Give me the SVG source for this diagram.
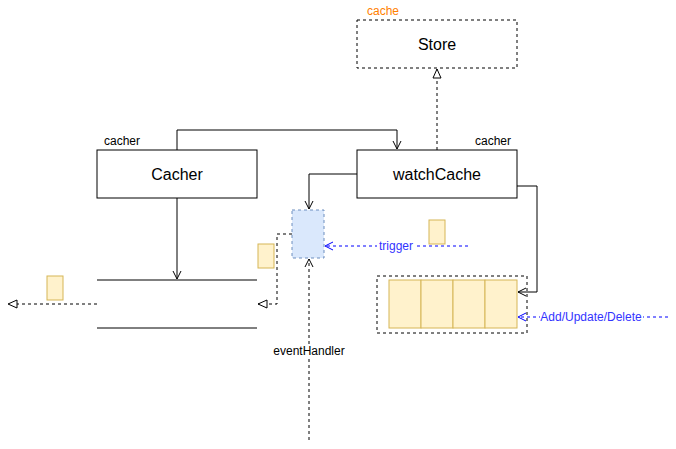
<svg xmlns="http://www.w3.org/2000/svg" width="676" height="449" viewBox="0 0 676 449">
<style>
text{font-family:"Liberation Sans",Arial,sans-serif;fill:#000}
.big{font-size:16px;text-anchor:middle}
.sm{font-size:12px}
.box{fill:#fff;stroke:#000;stroke-width:1}
.dbox{fill:#fff;stroke:#000;stroke-dasharray:3 3}
.doc{fill:#fff2cc;stroke:#d6b656}
.ln{fill:none;stroke:#000}
.dl{fill:none;stroke:#000;stroke-dasharray:3 3}
.bl{fill:none;stroke:#0000ff;stroke-dasharray:3 3}
</style>
<defs>
<marker id="open" markerWidth="10" markerHeight="10" refX="9" refY="5" orient="auto" markerUnits="userSpaceOnUse"><path d="M1,1 L9,5 L1,9" fill="none" stroke="#000"/></marker>
<marker id="openb" markerWidth="10" markerHeight="10" refX="9" refY="5" orient="auto" markerUnits="userSpaceOnUse"><path d="M1,1 L9,5 L1,9" fill="none" stroke="#0000ff"/></marker>
<marker id="tri" markerWidth="12" markerHeight="12" refX="10" refY="6" orient="auto" markerUnits="userSpaceOnUse"><path d="M1,2 L10,6 L1,10 Z" fill="#fff" stroke="#000"/></marker>
</defs>
<g id="store">
<rect class="dbox" x="357" y="20" width="160" height="48"/>
<text class="big" x="437" y="50">Store</text>
<text class="sm" x="367" y="15" style="fill:#ff8000">cache</text>
</g>
<g id="cacher">
<rect class="box" x="97" y="150" width="160" height="48"/>
<text class="big" x="177" y="180">Cacher</text>
<text class="sm" x="104" y="145">cacher</text>
</g>
<g id="watchCache">
<rect class="box" x="357" y="150" width="160" height="48"/>
<text class="big" x="437" y="180">watchCache</text>
<text class="sm" x="475" y="145">cacher</text>
</g>
<g id="trigger-box">
<rect x="292" y="210" width="32" height="48" fill="#dae8fc" stroke="#6c8ebf" stroke-dasharray="3 3"/>
</g>
<g id="queue">
<rect class="dbox" x="377" y="276" width="150" height="57"/>
<rect class="doc" x="389" y="280" width="32" height="48"/>
<rect class="doc" x="421" y="280" width="32" height="48"/>
<rect class="doc" x="453" y="280" width="32" height="48"/>
<rect class="doc" x="485" y="280" width="32" height="48"/>
</g>
<g id="docs">
<rect class="doc" x="47" y="276" width="16" height="24"/>
<rect class="doc" x="258" y="244" width="16" height="24"/>
<rect class="doc" x="429" y="220" width="16" height="24"/>
</g>
<g id="connectors">
<path class="dl" d="M437,150 V69" marker-end="url(#tri)"/>
<path class="ln" d="M177,150 V130 H397 V149" marker-end="url(#open)"/>
<path class="ln" d="M177,198 V279" marker-end="url(#open)"/>
<path class="ln" d="M357,174 H309 V209" marker-end="url(#open)"/>
<path class="dl" d="M292,234 H277 V304 H258" marker-end="url(#tri)"/>
<path class="dl" d="M97,304 H8" marker-end="url(#tri)"/>
<path class="ln" d="M517,186 H537 V292 H518" marker-end="url(#open)"/>
<path class="bl" d="M468,246 H325" marker-end="url(#openb)"/>
<path class="bl" d="M668,317 H518" marker-end="url(#openb)"/>
<path class="dl" d="M309,440 V259" marker-end="url(#open)"/>
<line class="ln" x1="97" y1="280" x2="257" y2="280"/>
<line class="ln" x1="97" y1="328" x2="257" y2="328"/>
</g>
<g id="labels">
<rect x="377" y="239" width="38" height="14" fill="#fff"/>
<text class="sm" x="396" y="250" text-anchor="middle" style="fill:#3333ff">trigger</text>
<rect x="540" y="310" width="103" height="14" fill="#fff"/>
<text class="sm" x="591" y="321" text-anchor="middle" style="fill:#3333ff">Add/Update/Delete</text>
<rect x="272" y="344" width="74" height="14" fill="#fff"/>
<text class="sm" x="309" y="355" text-anchor="middle">eventHandler</text>
</g>
</svg>
